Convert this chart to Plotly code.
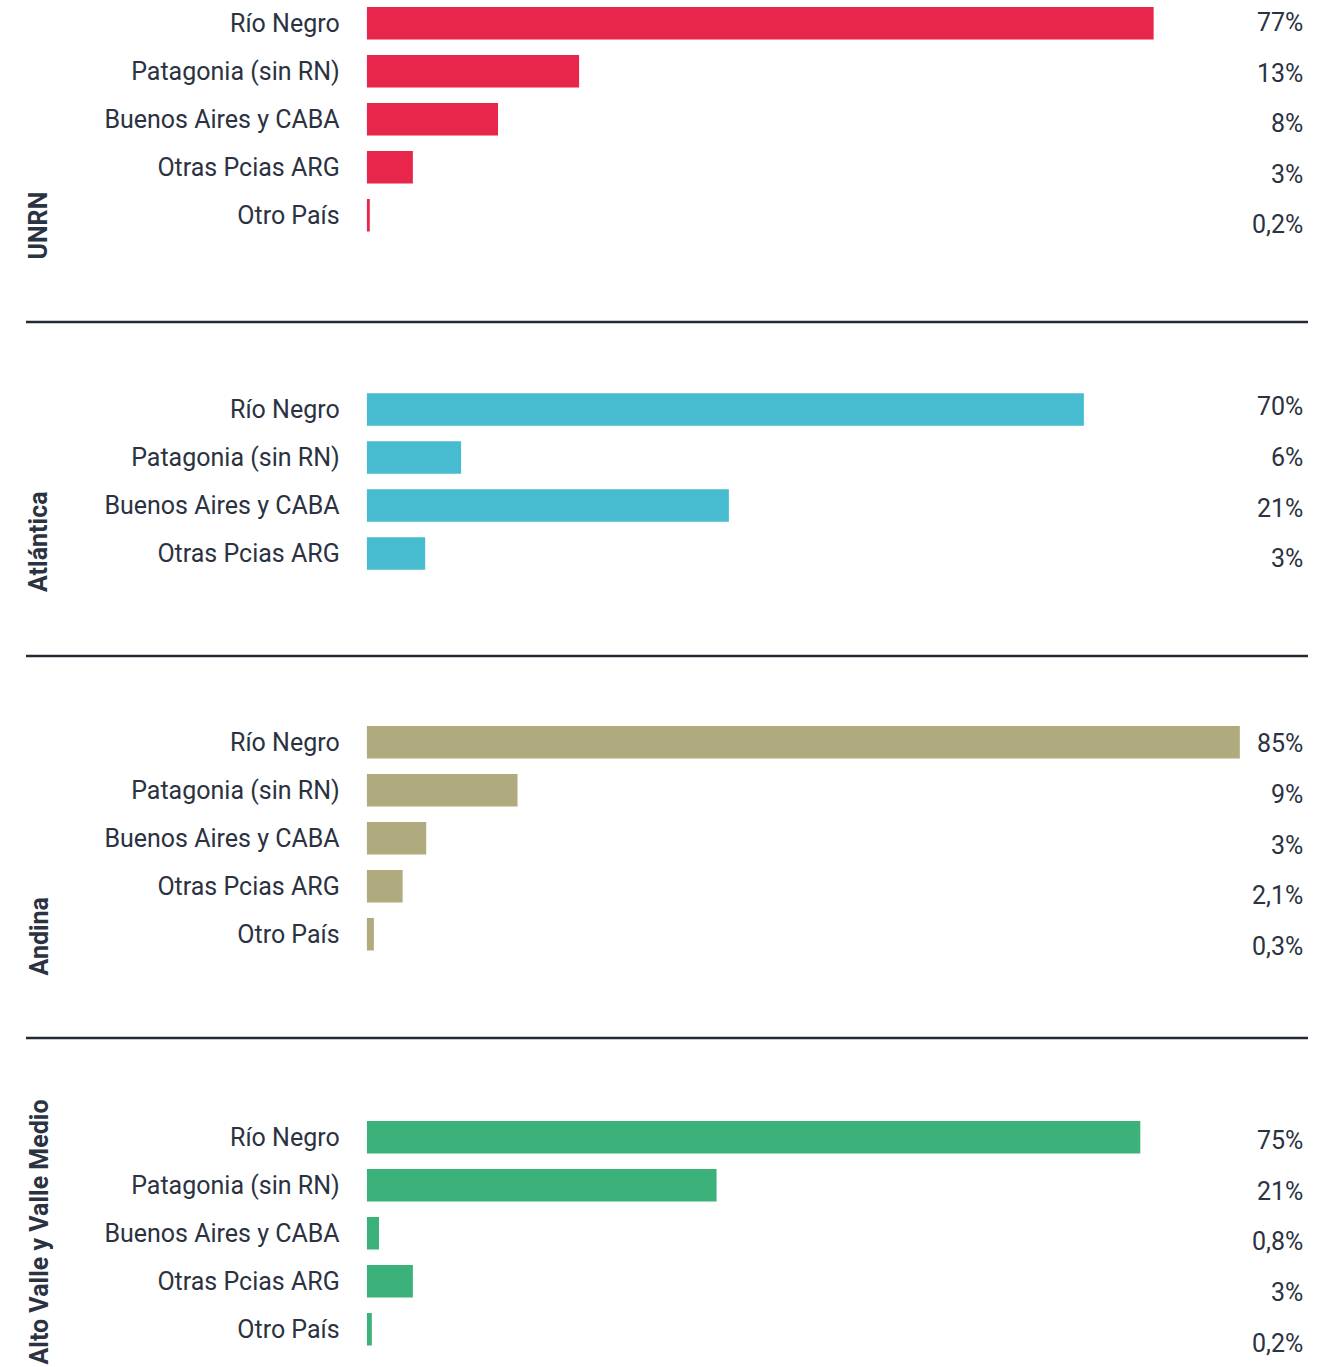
import plotly.graph_objects as go

W, H = 1341, 1367

# --- data -----------------------------------------------------------------
CATS_5 = ["Río Negro", "Patagonia (sin RN)", "Buenos Aires y CABA", "Otras Pcias ARG", "Otro País"]
CATS_4 = CATS_5[:4]

UNRN_VALUES = [76.7, 20.7, 12.8, 4.5, 0.3]
UNRN_LABELS = ["77%", "13%", "8%", "3%", "0,2%"]

ATLANTICA_VALUES = [69.9, 9.2, 35.3, 5.7]
ATLANTICA_LABELS = ["70%", "6%", "21%", "3%"]

ANDINA_VALUES = [85.1, 14.7, 5.8, 3.5, 0.7]
ANDINA_LABELS = ["85%", "9%", "3%", "2,1%", "0,3%"]

ALTO_VALUES = [75.4, 34.1, 1.2, 4.5, 0.5]
ALTO_LABELS = ["75%", "21%", "0,8%", "3%", "0,2%"]

PANEL_NAMES = ["UNRN", "Atlántica", "Andina", "Alto Valle y Valle Medio"]

# --- styling ----------------------------------------------------------------
COLORS = ["#E8254A", "#47BCD0", "#B0AA7F", "#3CB179"]
TEXT = "#2B3241"
FONT = "Roboto"

PITCH = 48.0          # px between bar centres
BAR_X0 = 366.7        # px where bars start
PX_PER_UNIT = 10.26
VALUE_X = 1304.5      # px, right edge of the value labels

# pixel layout per panel: (domain top, domain bottom, first bar centre,
#                          value-label shift, title centre)
PANEL_BOX = [
    (0, 300, 23.3, 0.8, 226),
    (340, 640, 409.5, 2.5, 541.5),
    (670, 1025, 742.3, -1.7, 936),
    (1050, 1367, 1137.2, -3.5, 1232),
]
SEPARATORS = [322, 656, 1038]

panels = [
    (CATS_5, UNRN_VALUES, UNRN_LABELS),
    (CATS_4, ATLANTICA_VALUES, ATLANTICA_LABELS),
    (CATS_5, ANDINA_VALUES, ANDINA_LABELS),
    (CATS_5, ALTO_VALUES, ALTO_LABELS),
]

fig = go.Figure()
annotations = []
layout_axes = {}

for k, ((cats, vals, labels), color, name, box) in enumerate(
    zip(panels, COLORS, PANEL_NAMES, PANEL_BOX), start=1
):
    top, bot, c0, shift0, title_y = box
    sfx = "" if k == 1 else str(k)
    fig.add_trace(
        go.Bar(
            x=vals,
            y=cats,
            orientation="h",
            marker=dict(color=color, line=dict(width=0)),
            xaxis=f"x{sfx}",
            yaxis=f"y{sfx}",
            hoverinfo="skip",
            showlegend=False,
        )
    )
    layout_axes[f"xaxis{sfx}"] = dict(
        domain=[BAR_X0 / W, 1],
        range=[0, (W - BAR_X0) / PX_PER_UNIT],
        visible=False,
        anchor=f"y{sfx}",
        fixedrange=True,
    )
    layout_axes[f"yaxis{sfx}"] = dict(
        domain=[1 - bot / H, 1 - top / H],
        type="category",
        categoryorder="array",
        categoryarray=cats,
        range=[(bot - c0) / PITCH, (top - c0) / PITCH],
        anchor=f"x{sfx}",
        showgrid=False,
        zeroline=False,
        showline=False,
        ticks="",
        ticklabelstandoff=26,
        tickfont=dict(family=FONT, size=25, color=TEXT),
        fixedrange=True,
    )
    for i, (cat, lab) in enumerate(zip(cats, labels)):
        annotations.append(
            dict(
                x=VALUE_X / W,
                xref="paper",
                xanchor="right",
                y=cat,
                yref=f"y{sfx}",
                yanchor="middle",
                yshift=shift0 - 2.6 * i,
                text=lab,
                showarrow=False,
                font=dict(family=FONT, size=25, color=TEXT),
            )
        )
    annotations.append(
        dict(
            x=38.5 / W,
            xref="paper",
            y=1 - title_y / H,
            yref="paper",
            xanchor="center",
            yanchor="middle",
            text=f"<b>{name}</b>",
            textangle=-90,
            showarrow=False,
            font=dict(family=FONT, size=25, color=TEXT),
        )
    )

shapes = [
    dict(
        type="line",
        xref="paper",
        yref="paper",
        x0=26 / W,
        x1=1308 / W,
        y0=1 - y / H,
        y1=1 - y / H,
        line=dict(color="#232A36", width=2.5),
    )
    for y in SEPARATORS
]

fig.update_layout(
    width=W,
    height=H,
    margin=dict(l=0, r=0, t=0, b=0),
    paper_bgcolor="white",
    plot_bgcolor="white",
    bargap=0.32,
    annotations=annotations,
    shapes=shapes,
    showlegend=False,
    **layout_axes,
)

fig.write_html(
    "out.html",
    config={"displayModeBar": False},
    post_script="document.body.style.margin = '0';",
)
